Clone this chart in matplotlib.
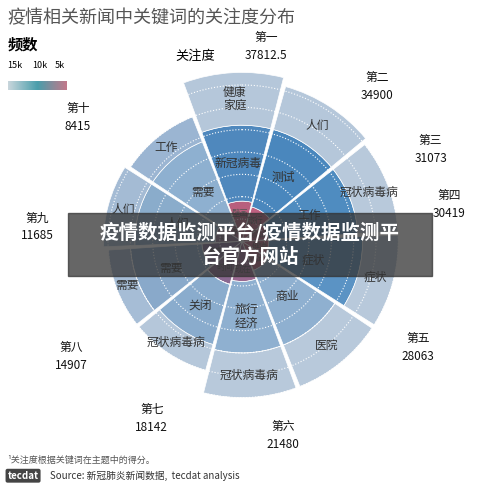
import numpy as np
import matplotlib
matplotlib.use("Agg")
import matplotlib.pyplot as plt
from matplotlib.colors import LinearSegmentedColormap
from matplotlib.patches import Rectangle

plt.rcParams['font.family'] = ['Noto Sans CJK SC', 'DejaVu Sans']

ranks = ['第一','第二','第三','第四','第五','第六','第七','第八','第九','第十']
totals = ['37812.5','34900','31073','30419','28063','21480','18142','14907','11685','8415']
kw1 = ['壁画','旅行','测试','健康','测试','现在','时间','发布','说','家']
v1 = [9000, 8000, 6000, 6000, 7000, 9000, 10000, 9000, 6000, 4000]
kw2 = ['新冠病毒','测试','工作','症状','商业','旅行\n经济','关闭','需要','人们','需要']
v2 = [17000, 18000, 20000, 21000, 18000, 16000, 14000, 16000, 18000, 20000]
kw3 = ['健康\n家庭','人们','冠状病毒病','症状','医院','冠状病毒病','冠状病毒病','需要','人们','工作']
v3 = [11812.5, 10000, 9000, 8000, 10000, 10000, 6000, 5000, 7000, 6000]

inner_c = ['#b85f7e', '#c06080', '#b05a7a', '#c06585', '#b8607e', '#9a6890', '#8a6890', '#7f6a92', '#8c7090', '#a0607e']
mid_c = ['#4f88bd', '#4a87bd', '#4f8cc0', '#5b93c4', '#8fb0d0', '#8fb0d0', '#8aaccd', '#89a9ca', '#8aaccb', '#8eb0d0']
out_c = ['#b5c7da', '#b5c7da', '#b8c9db', '#b8c9db', '#b8c9db', '#b8c9db', '#b5c7da', '#a6bdd6', '#a4bbd4', '#9bb5d2']

fig = plt.figure(figsize=(5, 4.92), dpi=100)
ax = fig.add_axes([0.14, 0.16, 0.688, 0.699], projection='polar')
ax.set_theta_zero_location('N')
ax.set_theta_direction(-1)
n = len(ranks)
width = np.deg2rad(34.5)
centers = np.deg2rad(-3 + 36 * np.arange(n))
b = np.zeros(n)
for vals, kws, cols, fs, tc in [(v1, kw1, inner_c, 6, '#555555'), (v2, kw2, mid_c, 8.5, '#333333'),
                                (v3, kw3, out_c, 8.5, '#333333')]:
    vals = np.array(vals, float)
    ax.bar(centers, vals, width=width, bottom=b, color=cols, edgecolor='white', linewidth=0.5)
    for c, bb, v, k in zip(centers, b, vals, kws):
        r = bb + v * (0.7 if fs == 6 else 0.5)
        ax.text(c, r, k, ha='center', va='center', fontsize=fs, color=tc, linespacing=1.0)
    b = b + vals
ax.set_ylim(0, 38500)
ax.set_yticks(np.arange(5000, 38000, 5000))
ax.set_yticklabels([])
ax.set_xticks([])
ax.grid(True, color='white', linestyle=':', linewidth=0.8)
ax.spines['polar'].set_visible(False)
ax.set_facecolor('none')

lab_ang = [7, 41, 64, 80, 121, 168, 207, 236, 274, 307]
lab_r = [44000, 46000, 47000, 47000, 46000, 44500, 44500, 46000, 46000, 46000]
for a, rr, r, t in zip(lab_ang, lab_r, ranks, totals):
    ax.text(np.deg2rad(a), rr, r + '\n' + t, ha='center', va='center',
            fontsize=8.5, color='#111111', linespacing=1.5)
fig.text(0.35, 0.878, '关注度', fontsize=9.5, ha='left')

fig.text(0.015, 0.963, '疫情相关新闻中关键词的关注度分布', fontsize=13, color='#555555', va='center')
fig.text(0.015, 0.91, '频数', fontsize=11, weight='bold', va='center')
for x, t in [(0.015, '15k'), (0.065, '10k'), (0.11, '5k')]:
    fig.text(x, 0.866, t, fontsize=6.5, va='center')
grad = np.linspace(0, 1, 100).reshape(1, -1)
cax = fig.add_axes([0.015, 0.818, 0.118, 0.018])
cax.imshow(grad, aspect='auto', cmap=LinearSegmentedColormap.from_list('l', ['#c8d6dc', '#4a9eab', '#c2788a']))
cax.axis('off')

fig.patches.append(Rectangle((0.136, 0.44), 0.727, 0.128, transform=fig.transFigure,
                             color='#333333', alpha=0.75, zorder=5))
fig.text(0.5, 0.504, '疫情数据监测平台/疫情数据监测平\n台官方网站', ha='center', va='center',
         fontsize=14, weight='bold', color='white', zorder=6, linespacing=1.3)

fig.text(0.015, 0.06, '¹关注度根据关键词在主题中的得分。', fontsize=6.5, color='#555555')
fig.text(0.015, 0.027, 'tecdat', fontsize=7, color='white', weight='bold',
         bbox=dict(boxstyle='round,pad=0.2', fc='#444444', ec='none'))
fig.text(0.1, 0.027, 'Source: 新冠肺炎新闻数据,  tecdat analysis', fontsize=7, color='#333333')
fig.savefig('out.png', dpi=100)
